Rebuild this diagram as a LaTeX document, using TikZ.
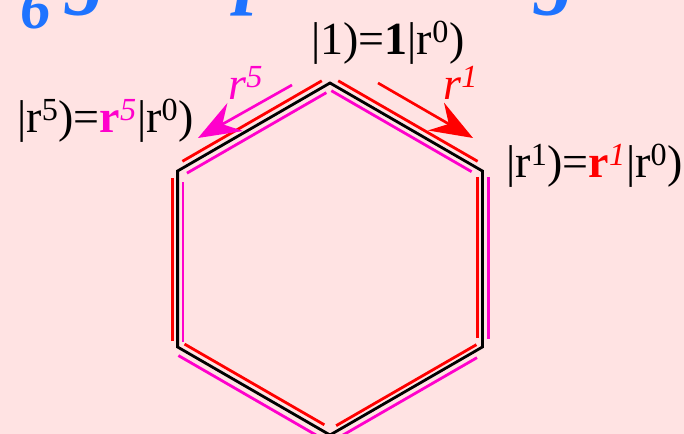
\documentclass[tikz,border=0pt]{standalone}
\usepackage{fontspec}
\setmainfont{Liberation Serif}
\usetikzlibrary{calc,arrows.meta}
\definecolor{bgpink}{RGB}{255,227,227}
\definecolor{mag}{RGB}{255,0,204}
\definecolor{tblue}{RGB}{30,115,255}
% style, from, to, offset, trim at from, trim at to
\newcommand\offsetseg[6]{%
  \path ($(#2)!#5!(#3)$) coordinate (oa) ($(#3)!#6!(#2)$) coordinate (ob);
  \draw[#1] ($(oa)!#4!90:(ob)$) -- ($(ob)!#4!-90:(oa)$);}
\begin{document}
\begin{tikzpicture}[x=0.75pt,y=-0.75pt,
  hexline/.style={black,line width=2.1pt,line join=miter},
  redline/.style={red,line width=2.1pt},
  magline/.style={mag,line width=2.1pt},
  lbl/.style={inner sep=0pt,anchor=base west,font=\fontsize{34.5}{40}\selectfont},
  ttl/.style={inner sep=0pt,anchor=base west,text=tblue,font=\fontsize{62}{70}\selectfont\bfseries\itshape},
  bigtip/.style={-{Stealth[length=32pt,width=24pt,inset=11pt]},line width=2pt}]
\useasboundingbox (0,0) rectangle (684,434);
\fill[bgpink] (0,0) rectangle (684,434);
% title glyphs cut off at the top
\node[ttl,font=\fontsize{46}{52}\selectfont\bfseries\itshape] (t6) at (20,29) {6};
\node[ttl] (tg1) at (66,-1) {g};
\node[ttl] (tp) at (236,-1) {p};
\node[ttl] (tg2) at (535,-1) {g};
% hexagon
\coordinate (T) at (330,83);
\coordinate (UR) at (482.4,171);
\coordinate (LR) at (482.4,347);
\coordinate (B) at (330,435);
\coordinate (LL) at (177.6,347);
\coordinate (UL) at (177.6,171);
\draw[hexline] (T) -- (UR) -- (LR) -- (B) -- (LL) -- (UL) -- cycle;
% red offset lines
\offsetseg{redline}{UL}{T}{4.5pt}{6.75pt}{4.5pt}
\offsetseg{redline}{T}{UR}{4.5pt}{4.5pt}{6.75pt}
\offsetseg{redline}{UR}{LR}{-3.75pt}{4.5pt}{6.75pt}
\offsetseg{redline}{LR}{B}{-3.75pt}{3pt}{7.5pt}
\offsetseg{redline}{B}{LL}{-4.5pt}{7.5pt}{3.4pt}
\offsetseg{redline}{LL}{UL}{3.75pt}{4.5pt}{5.25pt}
% magenta offset lines
\offsetseg{magline}{UL}{T}{-4.9pt}{5.25pt}{6pt}
\offsetseg{magline}{T}{UR}{-4.5pt}{3.75pt}{6.75pt}
\offsetseg{magline}{UR}{LR}{4.5pt}{4.5pt}{6pt}
\offsetseg{magline}{LR}{B}{4.9pt}{7.5pt}{0pt}
\offsetseg{magline}{B}{LL}{5.25pt}{0pt}{3.75pt}
\offsetseg{magline}{LL}{UL}{-4.1pt}{3.75pt}{8.25pt}
% rotation arrows
\coordinate (a1s) at (378,83);
\coordinate (a1e) at (473,138);
\draw[bigtip,red] (a1s) -- (a1e);
\coordinate (a5s) at (292,85);
\coordinate (a5e) at (198,138);
\draw[bigtip,mag] (a5s) -- (a5e);
\node[lbl,text=red] (r1) at (443,100) {\textit{r}\textsuperscript{\itshape 1}};
\node[lbl,text=mag] (r5) at (228,100) {\textit{r}\textsuperscript{\itshape 5}};
% state labels
\node[lbl] (s0) at (311,55) {|1)=\textbf{1}|r\textsuperscript{0})};
\node[lbl] (s5) at (17,133) {|r\textsuperscript{5})=\textcolor{mag}{\textbf{r}\textsuperscript{\itshape 5}}|r\textsuperscript{0})};
\node[lbl] (s1) at (506,178) {|r\textsuperscript{1})=\textcolor{red}{\textbf{r}\textsuperscript{\itshape 1}}|r\textsuperscript{0})};
\end{tikzpicture}
\end{document}
